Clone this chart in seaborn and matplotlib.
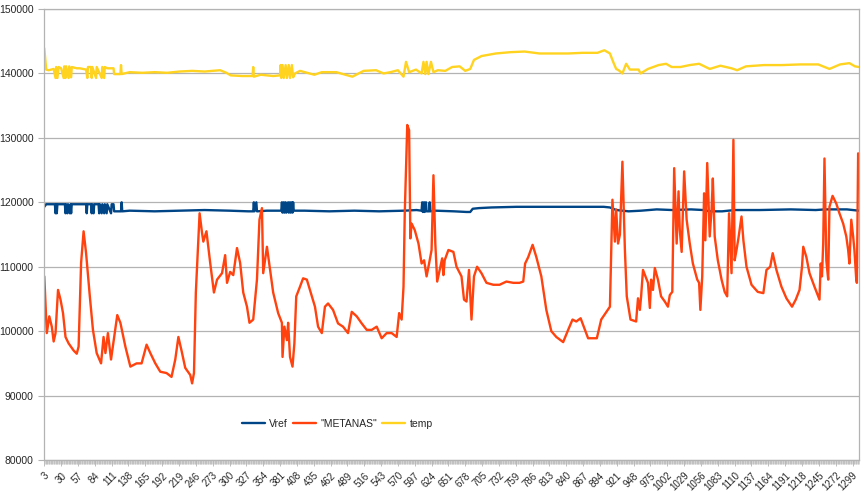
import numpy as np
import pandas as pd
import seaborn as sns
import matplotlib.pyplot as plt
from matplotlib.ticker import FixedLocator

# sample index / reading pairs
vref_x = [3, 6, 20, 21, 22, 23, 24, 36, 37, 38, 40, 41, 44, 45, 46, 47, 70, 71, 72, 78, 79, 80,
          82, 83, 90, 91, 92, 95, 96, 99, 100, 103, 104, 110, 111, 114, 115, 126, 127, 128, 140,
          180, 220, 260, 300, 330, 338, 339, 340, 343, 344, 360, 383, 384, 385, 387, 388, 390,
          391, 394, 395, 397, 398, 400, 401, 402, 403, 420, 460, 500, 540, 580, 600, 608, 609,
          610, 612, 613, 615, 616, 620, 621, 622, 630, 660, 680, 686, 690, 700, 720, 760, 800,
          850, 900, 910, 920, 940, 960, 985, 1010, 1040, 1060, 1070, 1090, 1110, 1150, 1200,
          1240, 1255, 1290, 1309]
vref_v = [119300, 119700, 119700, 118300, 119700, 118300, 119700, 119700, 118300, 119700, 118300,
          119700, 118300, 119700, 118300, 119700, 119700, 118300, 119700, 119700, 118300, 119700,
          118300, 119700, 119700, 118300, 119700, 118300, 119700, 118300, 119700, 118300, 119700,
          118300, 119700, 119700, 118600, 118600, 120000, 118600, 118700, 118600, 118700, 118800,
          118700, 118600, 118600, 120000, 118600, 120000, 118600, 118700, 118700, 120000, 118400,
          120000, 118400, 120000, 118400, 120000, 118400, 120000, 118400, 120000, 118400, 120000,
          118700, 118700, 118600, 118700, 118600, 118700, 118800, 118700, 120000, 118500, 120000,
          118500, 120000, 118600, 118600, 120000, 118600, 118700, 118600, 118500, 118500, 119000,
          119100, 119200, 119300, 119300, 119300, 119300, 119200, 118800, 118600, 118700, 118900,
          118800, 118900, 118800, 118600, 118600, 118800, 118800, 118900, 118800, 118900, 118900,
          118700]

metanas_x = [3, 7, 11, 15, 18, 21, 25, 29, 33, 37, 42, 50, 55, 58, 62, 66, 70, 76, 81, 87, 94, 98,
             101, 105, 110, 115, 120, 125, 133, 141, 151, 159, 167, 173, 181, 189, 199, 207, 213,
             218, 223, 229, 237, 240, 243, 246, 252, 256, 258, 263, 269, 275, 280, 288, 293, 296,
             301, 306, 312, 317, 322, 328, 332, 338, 344, 348, 352, 354, 360, 365, 370, 378, 384,
             385, 388, 392, 394, 397, 401, 404, 407, 413, 418, 424, 429, 437, 442, 448, 453, 458,
             466, 474, 482, 490, 496, 504, 512, 520, 528, 536, 544, 552, 560, 568, 572, 576, 579,
             581, 585, 588, 590, 592, 597, 603, 608, 612, 616, 620, 624, 627, 630, 633, 637, 641,
             643, 645, 651, 659, 664, 672, 676, 680, 684, 688, 692, 697, 704, 712, 723, 733, 744,
             755, 765, 771, 774, 779, 786, 792, 800, 808, 816, 824, 835, 843, 850, 856, 863, 870,
             875, 883, 889, 896, 903, 910, 914, 918, 920, 923, 926, 930, 934, 937, 943, 952, 955,
             958, 960, 963, 967, 971, 974, 976, 979, 982, 987, 992, 998, 1003, 1006, 1010, 1013,
             1017, 1020, 1022, 1025, 1029, 1033, 1038, 1043, 1050, 1053, 1055, 1058, 1061, 1063,
             1066, 1070, 1073, 1075, 1078, 1083, 1089, 1094, 1098, 1101, 1104, 1105, 1108, 1110,
             1113, 1116, 1121, 1124, 1129, 1137, 1147, 1156, 1161, 1167, 1171, 1177, 1185, 1193,
             1202, 1208, 1214, 1218, 1220, 1225, 1230, 1238, 1246, 1248, 1250, 1252, 1254, 1257,
             1260, 1262, 1267, 1273, 1278, 1284, 1289, 1292, 1294, 1297, 1300, 1302, 1305, 1306,
             1308]
metanas_v = [108500, 99700, 102300, 100700, 98400, 99700, 106400, 104900, 102800, 99100, 98100,
             97000, 96500, 97600, 110600, 115500, 112100, 105400, 100200, 96600, 95000, 99100,
             96600, 99700, 95600, 99100, 102500, 101300, 97600, 94500, 95000, 95000, 97900, 96600,
             95000, 93700, 93500, 92900, 95600, 99100, 97000, 94300, 93200, 91900, 93500, 106000,
             118300, 115200, 113900, 115500, 110600, 106000, 108000, 109000, 111800, 107500,
             109200, 108700, 112900, 110600, 106000, 103800, 101300, 101800, 108000, 117300,
             119100, 109000, 113100, 109500, 106000, 102800, 101300, 96000, 100700, 98600, 101300,
             96000, 94500, 98100, 105400, 106900, 108200, 108000, 106400, 103800, 100700, 99700,
             103800, 104300, 103300, 101200, 100700, 99700, 103000, 102300, 101200, 100200,
             100200, 100700, 98900, 99700, 99700, 99100, 102800, 101800, 106900, 118300, 132000,
             131200, 114400, 116700, 115700, 113600, 110500, 111000, 108500, 110500, 112600,
             124200, 113600, 107700, 109500, 111300, 108700, 111000, 112600, 112300, 110000,
             108500, 104900, 104600, 109500, 101800, 108500, 110000, 109000, 107500, 107200,
             107200, 107700, 107500, 107500, 107700, 110500, 111500, 113400, 111500, 108500,
             103300, 100000, 99100, 98300, 100200, 101800, 101500, 102000, 100200, 98900, 98900,
             98900, 101800, 102800, 103800, 120400, 113900, 118900, 113600, 115000, 126300,
             112600, 105400, 101800, 101500, 105100, 103300, 105400, 109500, 108500, 107500,
             103600, 108000, 106400, 109800, 108000, 105400, 104600, 103800, 105600, 106100,
             125300, 113600, 121700, 115700, 112300, 124800, 117300, 113600, 110500, 108000,
             107500, 103300, 108500, 121400, 114100, 126100, 114700, 118900, 123700, 114700,
             111000, 108000, 106100, 105400, 118300, 111000, 109000, 129700, 111000, 112600,
             114400, 117800, 114100, 110000, 107200, 106100, 105900, 109500, 110000, 112100,
             109500, 106900, 105100, 103800, 104900, 106400, 110000, 113100, 111500, 109000,
             106900, 104900, 110500, 108500, 113600, 126800, 111000, 108000, 119300, 121000,
             119800, 118300, 116700, 114700, 112600, 110500, 117300, 114700, 112600, 108000,
             107500, 127600]

temp_x = [3, 6, 10, 18, 21, 22, 24, 26, 30, 34, 35, 37, 38, 42, 43, 46, 47, 55, 60, 70, 72, 73,
          78, 79, 80, 86, 87, 95, 96, 99, 100, 104, 114, 115, 125, 126, 127, 140, 160, 180, 200,
          220, 240, 260, 285, 295, 302, 320, 337, 338, 339, 350, 370, 381, 382, 383, 385, 387,
          390, 392, 395, 397, 400, 402, 405, 413, 436, 448, 471, 497, 515, 535, 547, 558, 570,
          579, 583, 588, 599, 608, 611, 614, 616, 619, 623, 627, 634, 646, 657, 669, 678, 686,
          692, 704, 727, 750, 773, 797, 820, 843, 866, 890, 901, 910, 916, 920, 924, 930, 936,
          942, 956, 959, 971, 988, 1000, 1009, 1023, 1038, 1053, 1070, 1087, 1105, 1114, 1128,
          1157, 1186, 1215, 1244, 1262, 1279, 1294, 1303, 1309]
temp_v = [143900, 140600, 140500, 140700, 139300, 141000, 139300, 141000, 140800, 139300, 141100,
          139300, 141100, 139300, 141100, 139400, 141000, 140800, 140800, 140600, 139300, 141000,
          141000, 139300, 141000, 139300, 141000, 139300, 141000, 139300, 141000, 140800, 140800,
          139900, 139900, 141300, 139900, 140200, 140100, 140200, 140100, 140300, 140400, 140300,
          140500, 140100, 139700, 139600, 139600, 141000, 139500, 139800, 139600, 139700, 141300,
          139300, 141300, 139300, 141300, 139300, 141300, 139300, 141300, 139400, 140000, 140400,
          139800, 140200, 140200, 139500, 140400, 140500, 140000, 140200, 140500, 139500, 141800,
          140200, 140600, 140000, 141800, 139900, 141800, 139900, 141800, 140200, 140500, 140400,
          141000, 141100, 140400, 140700, 142100, 142700, 143100, 143300, 143400, 143100, 143100,
          143100, 143200, 143200, 143600, 143100, 141600, 140700, 140500, 140000, 141500, 140600,
          140600, 140000, 140700, 141300, 141500, 141000, 141000, 141300, 141500, 140700, 141200,
          140800, 140500, 141100, 141300, 141300, 141400, 141400, 140700, 141400, 141600, 141100,
          141000]

series_names = ["Vref", '"METANAS"', "temp"]
series_colors = ["#004586", "#ff420e", "#ffd320"]
tick_labels = list(range(3, 1300, 27))

df = pd.concat([
    pd.DataFrame({"sample": vref_x, "value": vref_v, "series": series_names[0]}),
    pd.DataFrame({"sample": metanas_x, "value": metanas_v, "series": series_names[1]}),
    pd.DataFrame({"sample": temp_x, "value": temp_v, "series": series_names[2]}),
], ignore_index=True)

sns.set_style("white")
plt.rcParams["font.family"] = ["Liberation Sans", "DejaVu Sans"]

fig = plt.figure(figsize=(8.66, 4.93), dpi=100)
ax = fig.add_axes([0.0508, 0.0669, 0.9412, 0.9148])
sns.lineplot(data=df, x="sample", y="value", hue="series", hue_order=series_names,
             palette=dict(zip(series_names, series_colors)), sort=False, estimator=None,
             linewidth=1.7, ax=ax)

ax.set_xlim(2.5, 1309.5)
ax.set_ylim(80000, 150000)
ax.set_yticks(range(80000, 150001, 10000))
ax.set_xticks(tick_labels)
ax.set_xticklabels([str(t) for t in tick_labels], rotation=45, ha="right",
                   rotation_mode="anchor", fontsize=7)
ax.xaxis.set_minor_locator(FixedLocator(np.arange(3, 1310, 1)))
ax.tick_params(axis="y", labelsize=7.5, length=4, color="#b3b3b3", left=True)
ax.tick_params(axis="x", which="both", length=4, color="#b3b3b3", bottom=True, width=0.6)
ax.tick_params(axis="x", which="minor", length=3, width=0.4)
ax.yaxis.grid(True, color="#b3b3b3", linewidth=0.9)
ax.xaxis.grid(False)
for side in ["left", "bottom", "right", "top"]:
    ax.spines[side].set_color("#b3b3b3")
    ax.spines[side].set_linewidth(0.9)
ax.set_xlabel("")
ax.set_ylabel("")

ax.legend(loc="center", bbox_to_anchor=(0.36, 0.08), ncol=3, frameon=False, fontsize=7.5,
          handlelength=2.2, columnspacing=0.5, handletextpad=0.4)

plt.savefig("out.png", dpi=100)
